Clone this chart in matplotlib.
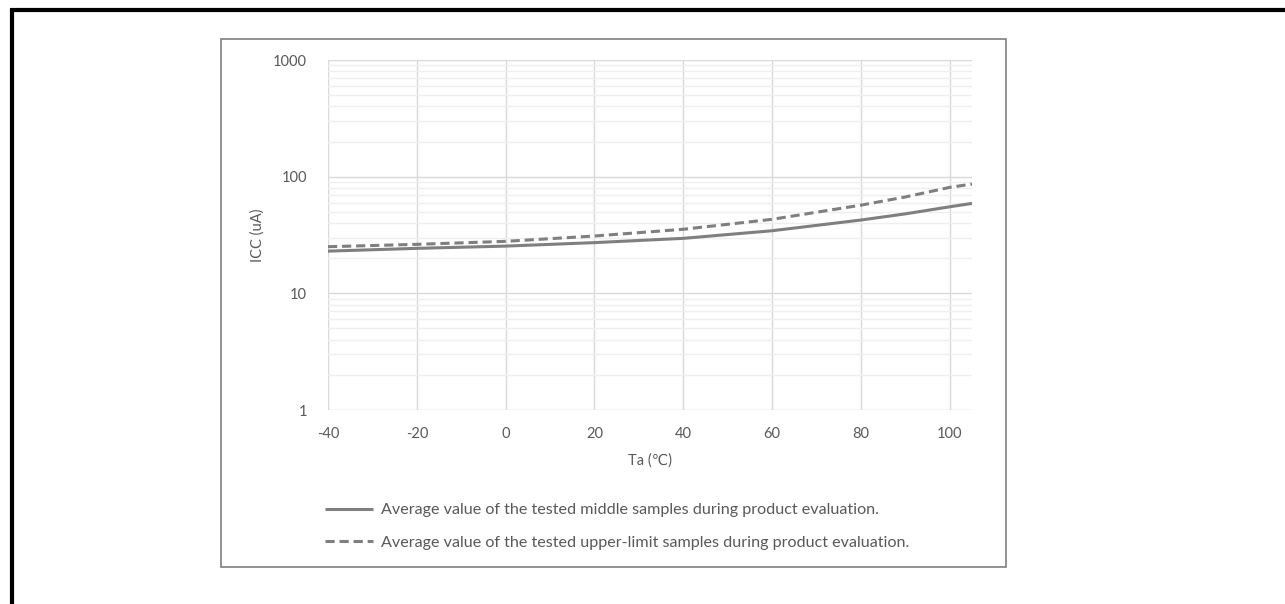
import matplotlib.pyplot as plt
import matplotlib.patches as patches
from matplotlib.ticker import LogLocator, FixedLocator, NullFormatter

# values
temps = [-40, -20, 0, 20, 40, 60, 80, 90, 100, 105]
icc_middle = [23.0, 24.3, 25.4, 27.2, 29.6, 34.4, 42.5, 48.0, 55.2, 59.0]
icc_upper = [25.1, 26.3, 27.9, 31.0, 35.4, 43.1, 57.0, 67.0, 81.0, 86.4]
x_ticks = [-40, -20, 0, 20, 40, 60, 80, 100]
y_ticks = [1, 10, 100, 1000]
labels = ['Average value of the tested middle samples during product evaluation.',
          'Average value of the tested upper-limit samples during product evaluation.']

txt = '#595959'
line_col = '#7f7f7f'
plt.rcParams['font.family'] = ['Lato', 'DejaVu Sans']
plt.rcParams['axes.unicode_minus'] = False

fig = plt.figure(figsize=(12.85, 6.04), dpi=100)
W, H = 1285, 604

# outer black frame (only left/top visible) and inner chart frame
fig.patches.append(patches.Rectangle((12 / W, -0.1), 1.2, (604 - 10) / H + 0.1,
                                     transform=fig.transFigure, fill=False,
                                     edgecolor='black', linewidth=3))
fig.patches.append(patches.Rectangle((221 / W, (604 - 567) / H), (1006 - 221) / W, (567 - 39) / H,
                                     transform=fig.transFigure, fill=False,
                                     edgecolor='#7f7f7f', linewidth=1.2))

ax = fig.add_axes([328 / W, (604 - 410) / H, (972 - 328) / W, (410 - 60) / H])
ax.set_yscale('log')
ax.set_xlim(-40, 105)
ax.set_ylim(1, 1000)

ax.plot(temps, icc_middle, color=line_col, lw=2.2, label=labels[0], solid_capstyle='butt')
ax.plot(temps, icc_upper, color=line_col, lw=2.2, ls=(0, (3, 1.6)), label=labels[1])

ax.xaxis.set_major_locator(FixedLocator(x_ticks))
ax.yaxis.set_major_locator(FixedLocator(y_ticks))
ax.yaxis.set_minor_locator(LogLocator(base=10, subs=range(2, 10)))
ax.yaxis.set_minor_formatter(NullFormatter())
ax.set_xticklabels([str(v) for v in x_ticks])
ax.set_yticklabels([str(v) for v in y_ticks])
ax.grid(True, which='major', color='#d9d9d9', lw=1)
ax.grid(True, which='minor', axis='y', color='#efefef', lw=1)
ax.set_axisbelow(True)
for s in ax.spines.values():
    s.set_visible(False)
ax.tick_params(which='both', length=0, colors=txt, labelsize=10.5)
ax.tick_params(axis='y', pad=15)
ax.tick_params(axis='x', pad=12)

ax.set_xlabel('Ta (\u2103)', color=txt, fontsize=10.5, labelpad=9)
ax.set_ylabel('ICC (uA)', color=txt, fontsize=10.5, labelpad=6)

ax.legend(loc='upper left', bbox_to_anchor=(325 / W, (604 - 503) / H),
          bbox_transform=fig.transFigure, frameon=False, fontsize=11.6,
          borderaxespad=0, borderpad=0,
          labelcolor=txt, handlelength=3.0, handletextpad=0.45, labelspacing=1.15)

fig.savefig('out.png', dpi=100)
